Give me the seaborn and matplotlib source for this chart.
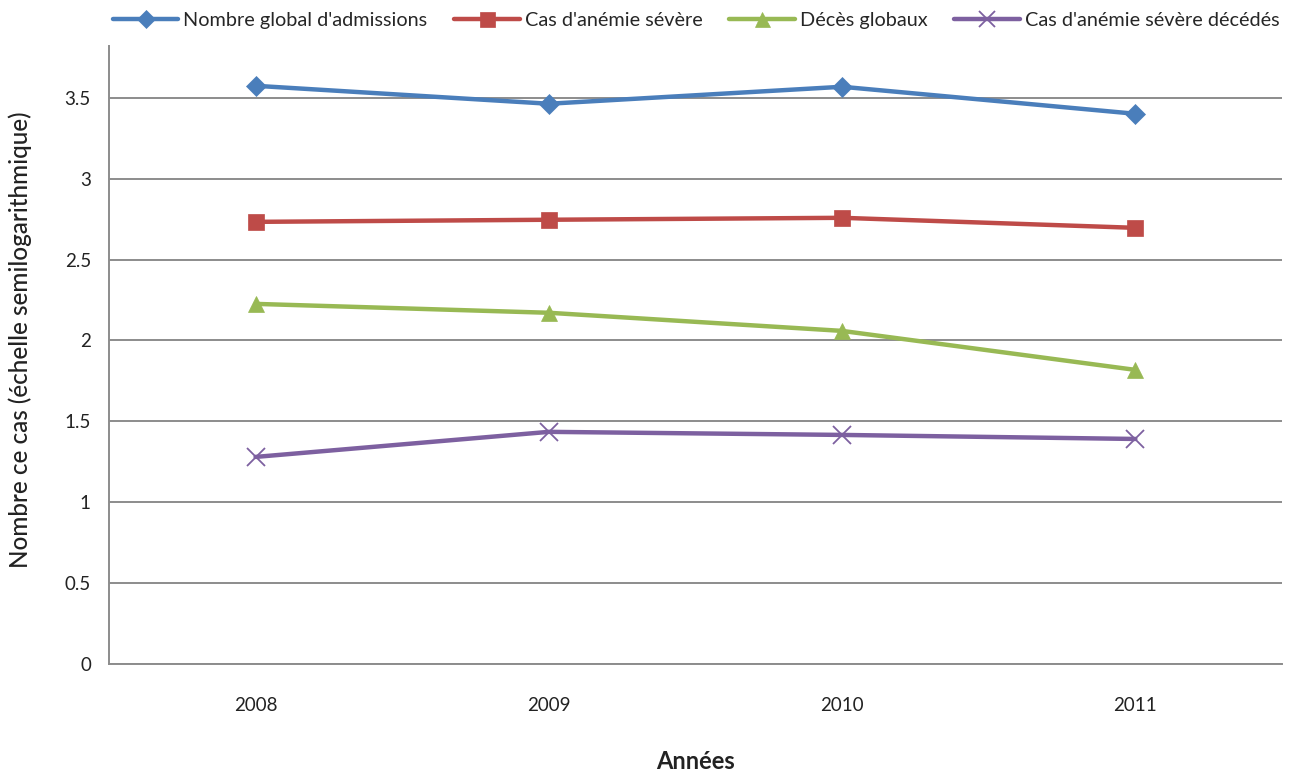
import matplotlib
matplotlib.use("Agg")
import matplotlib.pyplot as plt
import seaborn as sns
import pandas as pd
import numpy as np

years = ["2008", "2009", "2010", "2011"]
admissions = [3.574, 3.463, 3.568, 3.401]
anemie_severe = [2.733, 2.746, 2.758, 2.696]
deces_globaux = [2.226, 2.171, 2.059, 1.818]
anemie_decedes = [1.280, 1.435, 1.416, 1.391]

series_names = [
    "Nombre global d'admissions",
    "Cas d'anémie sévère",
    "Décès globaux",
    "Cas d'anémie sévère décédés",
]
series_values = [admissions, anemie_severe, deces_globaux, anemie_decedes]
colors = ["#4A7EBB", "#BE4B48", "#98B954", "#7D60A0"]
markers = ["D", "s", "^", "x"]
marker_sizes = [10, 12, 12, 13]

sns.set_theme(style="white")
plt.rcParams["font.family"] = ["Lato", "DejaVu Sans"]

rows = []
for name, vals in zip(series_names, series_values):
    for i, (yr, v) in enumerate(zip(years, vals)):
        rows.append({"pos": i, "Année": yr, "Série": name, "Valeur": v})
df = pd.DataFrame(rows)

fig = plt.figure(figsize=(12.94, 7.73), dpi=100)
ax = fig.add_axes([0.0842, 0.141, 0.9065, 0.7995])

ax.set_ylim(0, 3.82)
ax.set_xlim(-0.5, 3.5)
for yv in np.arange(0, 3.51, 0.5):
    ax.axhline(yv, color="#8c8c8c", lw=1.4, zorder=1)

for name, c, m, ms in zip(series_names, colors, markers, marker_sizes):
    sub = df[df["Série"] == name]
    sns.lineplot(data=sub, x="pos", y="Valeur", ax=ax, color=c, lw=3.2,
                 marker=m, markersize=ms, markeredgecolor=c,
                 markeredgewidth=1.3 if m == "x" else 0.5,
                 label=name, zorder=3, legend=False)

ax.set_yticks(np.arange(0, 3.51, 0.5))
ax.set_yticklabels(["0", "0.5", "1", "1.5", "2", "2.5", "3", "3.5"])
ax.set_xticks(range(len(years)))
ax.set_xticklabels(years)
ax.set_xticks(np.arange(-0.5, 3.51, 1.0), minor=True)
ax.tick_params(axis="x", which="major", length=0, pad=24, labelsize=13.5, colors="#222222")
ax.tick_params(axis="x", which="minor", length=7, width=1.2, color="#8c8c8c", direction="out")
ax.tick_params(axis="y", which="major", length=6, width=1.2, color="#8c8c8c",
               direction="out", pad=7, labelsize=13.5, labelcolor="#222222")

for side in ["top", "right"]:
    ax.spines[side].set_visible(False)
for side in ["left", "bottom"]:
    ax.spines[side].set_color("#8c8c8c")
    ax.spines[side].set_linewidth(1.4)

ax.set_xlabel("Années", fontsize=17, fontweight="bold", labelpad=26, color="#222222")
ax.set_ylabel("Nombre ce cas (échelle semilogarithmique)", fontsize=17.5,
              fontweight="medium", color="#222222")
ax.yaxis.set_label_coords(-0.066, 0.525)

handles, labels = ax.get_legend_handles_labels()
fig.legend(handles, labels, loc="center", bbox_to_anchor=(0.538, 0.973), ncol=4,
           frameon=False, fontsize=14.3, handlelength=3.3, handletextpad=0.25,
           columnspacing=1.35, markerscale=0.9)

fig.savefig("out.png", dpi=100)
